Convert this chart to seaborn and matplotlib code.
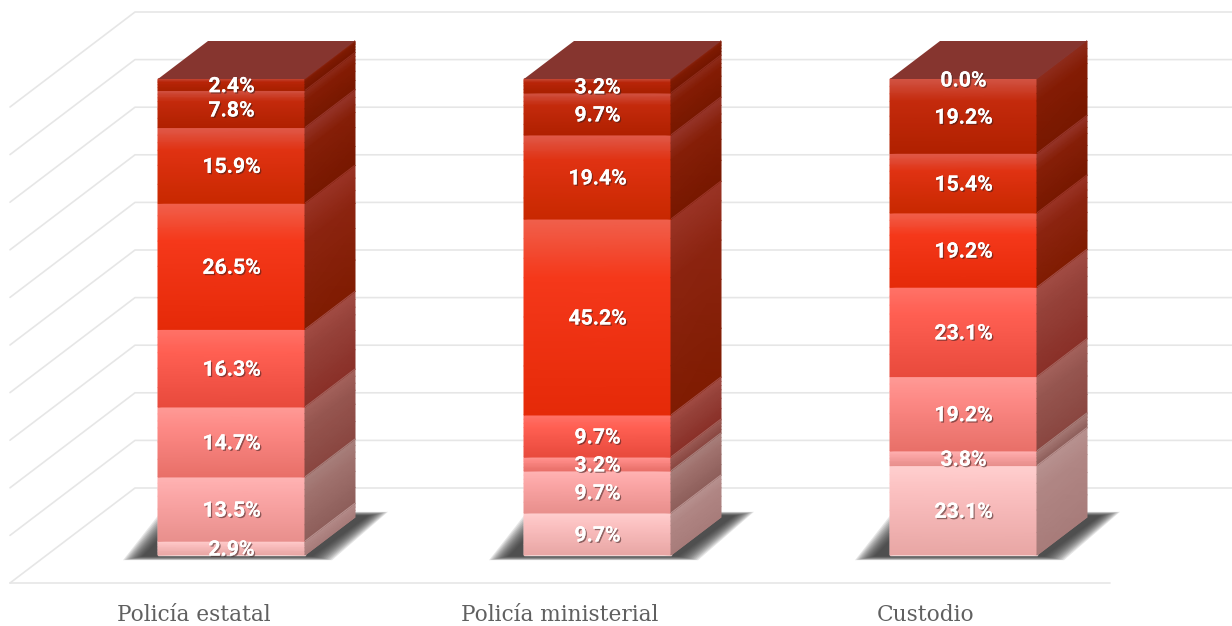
import numpy as np
import matplotlib
matplotlib.use("Agg")
import matplotlib.pyplot as plt
import matplotlib.patheffects as pe
from matplotlib.colors import LinearSegmentedColormap
from matplotlib.patches import Polygon
import seaborn as sns

##### DATA #####
categories = ["Policía estatal", "Policía ministerial", "Custodio"]
# stack levels, bottom to top, one value per category
level_0 = [2.9, 9.7, 23.1]
level_1 = [13.5, 9.7, 3.8]
level_2 = [14.7, 3.2, 19.2]
level_3 = [16.3, 9.7, 23.1]
level_4 = [26.5, 45.2, 19.2]
level_5 = [15.9, 19.4, 15.4]
level_6 = [7.8, 9.7, 19.2]
level_7 = [2.4, 3.2, 0.0]
levels = [level_0, level_1, level_2, level_3, level_4, level_5, level_6, level_7]
grid_ticks = np.arange(0, 1.01, 0.1)

# top / middle / bottom colour of each level
front_colors = [
    ("#ffcfcf", "#fbc0c0", "#e8a6a4"),
    ("#ffb4b4", "#fba6a6", "#e88f8c"),
    ("#ff9a96", "#fd8a86", "#e86f68"),
    ("#ff7268", "#ff5f52", "#e84a3c"),
    ("#f0604c", "#f5381a", "#e52a08"),
    ("#e05a4a", "#e03212", "#c82800"),
    ("#d25444", "#c42a0c", "#b02000"),
    ("#c84a38", "#b82408", "#a82000"),
]
side_colors = [
    ("#b89290", "#b08684", "#a87c7a"),
    ("#a8807c", "#a0726e", "#8e5e5a"),
    ("#a4625c", "#965650", "#8a4640"),
    ("#a24c44", "#96423a", "#8a3028"),
    ("#9a3426", "#8c2410", "#801c02"),
    ("#96352a", "#861f08", "#781800"),
    ("#8e2c1c", "#841c04", "#781800"),
    ("#8a2410", "#7e1a02", "#741600"),
]
top_color = "#86352f"

##### LAYOUT (figure in pixels) #####
W, H = 1232, 626
x_scale = 366.0      # px per category
y_scale = 476.0      # px per 100 %
x_zero = 231.5
y_zero = 555.0
dx = 50 / x_scale    # bar depth
dy = 38 / y_scale


def px(x, y):
    # figure pixel -> data coordinates
    return (x - x_zero) / x_scale, (y_zero - y) / y_scale


sns.set_theme(style="white")
plt.rcParams["font.family"] = ["DejaVu Serif", "DejaVu Sans"]

fig = plt.figure(figsize=(W / 100, H / 100), dpi=100)
ax = fig.add_axes([0, 0, 1, 1])

# normalise every stack to 100 %
values = np.array(levels)
shares = values / values.sum(axis=0)
positions = np.arange(len(categories))

bottoms = np.zeros(len(categories))
for i, share in enumerate(shares):
    sns.barplot(x=positions, y=share, bottom=bottoms, native_scale=True,
                color=front_colors[i][1], saturation=1, width=147 / x_scale,
                errorbar=None, ax=ax, zorder=3)
    bottoms = bottoms + share

ax.set_xlim(px(0, 0)[0], px(W, 0)[0])
ax.set_ylim(px(0, H)[1], px(0, 0)[1])
ax.set_axis_off()

# back wall + floor grid
grid_color = "#e6e6e6"
for tick in grid_ticks:
    x0, y0 = px(135, 488 - tick * y_scale)
    x1, y1 = px(10, 583 - tick * y_scale)
    x2, _ = px(W, 0)
    ax.plot([x1, x0, x2], [y1, y0, y0], color=grid_color, lw=1.2, zorder=1)
xa, ya = px(10, 583)
xb, _ = px(1110, 583)
ax.plot([xa, xb], [ya, ya], color=grid_color, lw=1.2, zorder=1)


def gradient_face(xs, ys_top, ys_bot, stops):
    # xs: (left, right); ys_top/ys_bot: y at left and right ends
    cmap = LinearSegmentedColormap.from_list("seg", [(0, stops[0]), (0.3, stops[1]), (1, stops[2])])
    t = np.array([0, 0.1, 0.2, 0.3, 0.5, 0.75, 1.0])
    X = np.array([[xs[0], xs[1]]] * len(t))
    Y = np.array([[ys_top[0] + (ys_bot[0] - ys_top[0]) * a,
                   ys_top[1] + (ys_bot[1] - ys_top[1]) * a] for a in t])
    C = np.column_stack([t, t])
    ax.pcolormesh(X, Y, C, shading="gouraud", cmap=cmap, vmin=0, vmax=1,
                  zorder=4, rasterized=True, antialiased=True)


n_cat = len(categories)
bars = list(ax.patches)
label_fx = [pe.withSimplePatchShadow(offset=(1, -1), shadow_rgbFace="#3a2020", alpha=0.55),
            pe.Normal()]

for j in range(n_cat):
    base = bars[j]
    left, right = base.get_x(), base.get_x() + base.get_width()

    # soft shadow on the floor, dark core with a short fade
    n_layers = 14
    for k in range(n_layers):
        grow = (n_layers - k) * 1.5 / x_scale
        grow_y = (n_layers - k) * 0.3 / y_scale
        poly = [(left - 14 / x_scale - grow, -1 / y_scale - grow_y),
                (right + 6 / x_scale + grow, -1 / y_scale - grow_y),
                (right + dx + 12 / x_scale + grow, dy + 1 / y_scale + grow_y),
                (left + 24 / x_scale - grow, dy + 1 / y_scale + grow_y)]
        ax.add_patch(Polygon(poly, closed=True, facecolor="#303030", edgecolor="none",
                             alpha=0.12, zorder=2))

    # faces of each stack segment
    for i in range(len(levels)):
        bar = bars[i * n_cat + j]
        y0, y1 = bar.get_y(), bar.get_y() + bar.get_height()
        if bar.get_height() > 0:
            gradient_face((left, right), (y1, y1), (y0, y0), front_colors[i])
            gradient_face((right, right + dx), (y1, y1 + dy), (y0, y0 + dy), side_colors[i])
            # gouraud edges are aliased, run a thin line along the slanted ones
            ax.plot([right, right + dx], [y1, y1 + dy], color=side_colors[i][0], lw=0.8,
                    zorder=4.5, solid_capstyle="butt")
            ax.plot([right, right + dx], [y0, y0 + dy], color=side_colors[i][2], lw=0.8,
                    zorder=4.4, solid_capstyle="butt")
        ax.text((left + right) / 2, (y0 + y1) / 2 - 2 / y_scale, f"{levels[i][j]:.1f}%",
                color="white", fontsize=15.3, fontweight="bold", family="Roboto",
                ha="center", va="center", zorder=7, path_effects=label_fx)

    # top of the stack
    y_top = bars[(len(levels) - 1) * n_cat + j].get_y() + bars[(len(levels) - 1) * n_cat + j].get_height()
    ax.add_patch(Polygon([(left, y_top), (left + dx, y_top + dy),
                          (right + dx, y_top + dy), (right, y_top)],
                         closed=True, facecolor=top_color, edgecolor="none", zorder=5))

    # category label
    ax.text(j - 37.5 / x_scale, px(0, 615)[1], categories[j], color="#606060",
            fontsize=15.6, ha="center", va="center", zorder=7)

fig.savefig("out.png", dpi=100)
